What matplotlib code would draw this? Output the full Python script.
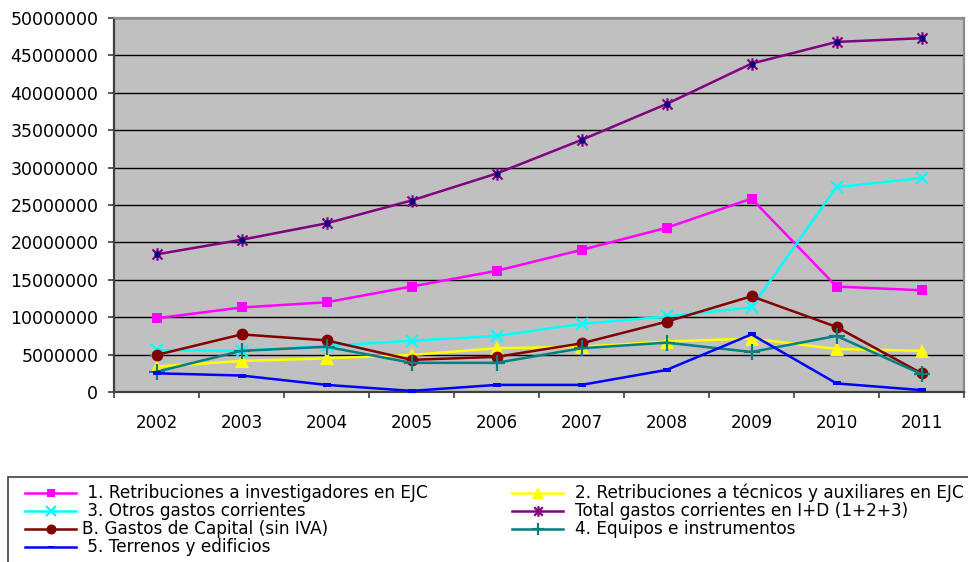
import numpy as np
import matplotlib
matplotlib.use("Agg")
import matplotlib.pyplot as plt
from matplotlib.path import Path
from matplotlib.lines import Line2D
from matplotlib.patches import Rectangle
from matplotlib.ticker import FixedLocator, FuncFormatter

# ---- data -------------------------------------------------------------
years = ["2002", "2003", "2004", "2005", "2006", "2007", "2008", "2009", "2010", "2011"]

retrib_investigadores = [9.85e6, 11.3e6, 12.0e6, 14.1e6, 16.2e6, 19.0e6, 21.95e6, 25.85e6, 14.1e6, 13.6e6]
retrib_tecnicos = [3.4e6, 4.15e6, 4.5e6, 4.95e6, 5.85e6, 6.05e6, 6.75e6, 7.15e6, 5.75e6, 5.5e6]
otros_gastos = [5.6e6, 5.5e6, 6.15e6, 6.85e6, 7.5e6, 9.1e6, 10.1e6, 11.3e6, 27.4e6, 28.6e6]
total_corrientes = [18.4e6, 20.35e6, 22.55e6, 25.6e6, 29.2e6, 33.7e6, 38.5e6, 43.9e6, 46.8e6, 47.3e6]
gastos_capital = [4.95e6, 7.7e6, 6.9e6, 4.3e6, 4.7e6, 6.5e6, 9.4e6, 12.8e6, 8.7e6, 2.5e6]
equipos = [2.7e6, 5.5e6, 6.05e6, 3.9e6, 3.9e6, 5.85e6, 6.6e6, 5.35e6, 7.5e6, 2.4e6]
terrenos = [2.5e6, 2.2e6, 0.95e6, 0.15e6, 0.95e6, 0.95e6, 2.95e6, 7.7e6, 1.15e6, 0.25e6]

labels = [
    " 1. Retribuciones a investigadores en EJC",
    "2. Retribuciones a técnicos y auxiliares en EJC",
    " 3. Otros gastos corrientes",
    "Total gastos corrientes en I+D (1+2+3)",
    "B. Gastos de Capital (sin IVA)",
    "4. Equipos e instrumentos",
    " 5. Terrenos y edificios",
]
series = [retrib_investigadores, retrib_tecnicos, otros_gastos, total_corrientes,
          gastos_capital, equipos, terrenos]

# ---- marker shapes ----------------------------------------------------
star_path = Path(
    [(-1, -1), (1, 1), (-1, 1), (1, -1), (0, -1.25), (0, 1.25)],
    [Path.MOVETO, Path.LINETO, Path.MOVETO, Path.LINETO, Path.MOVETO, Path.LINETO],
)
dash_path = Path(
    [(-1, -0.45), (1, -0.45), (1, 0.45), (-1, 0.45), (-1, -0.45)],
    [Path.MOVETO, Path.LINETO, Path.LINETO, Path.LINETO, Path.CLOSEPOLY],
)

styles = [
    dict(color="#FF00FF", marker="s", ms=7.5, mew=0, mfc="#FF00FF"),
    dict(color="#FFFF00", marker="^", ms=9.5, mew=0, mfc="#FFFF00"),
    dict(color="#00FFFF", marker="x", ms=8.5, mew=1.6, mfc="none"),
    dict(color="#800080", marker=star_path, ms=9, mew=1.6, mfc="none"),
    dict(color="#800000", marker="o", ms=8.5, mew=0, mfc="#800000"),
    dict(color="#008080", marker="+", ms=11, mew=1.6, mfc="none"),
    dict(color="#0000FF", marker=dash_path, ms=5.5, mew=0, mfc="#0000FF"),
]

W, H = 968, 562
fig = plt.figure(figsize=(W / 100, H / 100), dpi=100)
fig.patch.set_facecolor("white")

left, right, top, bottom = 114, 964, 18, 392
ax = fig.add_axes([left / W, 1 - bottom / H, (right - left) / W, (bottom - top) / H])
ax.set_facecolor("#C0C0C0")

for vals, st in zip(series, styles):
    ax.plot(years, vals, color=st["color"], lw=1.8, marker=st["marker"],
            ms=st["ms"], mew=st["mew"], mec=st["color"], mfc=st["mfc"], zorder=3)
    if st["marker"] is star_path:
        ax.plot(years, vals, ls="none", marker="o", ms=4.5, mew=0,
                mfc="#000080", zorder=3)

ax.set_xlim(-0.5, len(years) - 0.5)
ax.set_ylim(0, 50e6)
ax.set_yticks(np.arange(0, 50e6 + 1, 5e6))
ax.yaxis.set_major_formatter(FuncFormatter(lambda v, p: f"{v:.0f}"))
ax.xaxis.set_minor_locator(FixedLocator(np.arange(-0.5, len(years), 1.0)))

ax.grid(axis="y", color="#000000", lw=1.0)
ax.set_axisbelow(True)

for s in ("left", "bottom"):
    ax.spines[s].set_color("#404040")
    ax.spines[s].set_linewidth(1.6)
for s in ("top", "right"):
    ax.spines[s].set_color("#8C8C8C")
    ax.spines[s].set_linewidth(1.6)

ax.tick_params(axis="y", which="major", length=4.3, width=1.2, color="#404040",
               pad=7, labelsize=12.5, labelcolor="#000000")
ax.tick_params(axis="x", which="major", length=0, pad=16, labelsize=12,
               labelcolor="#000000")
ax.tick_params(axis="x", which="minor", length=4.3, width=1.2, color="#404040")

# ---- legend box below the chart --------------------------------------
def fx(px):
    return px / W

def fy(py):
    return 1 - py / H

fig.patches.append(Rectangle((fx(8), -0.1), 1.0, fy(477) + 0.1, transform=fig.transFigure,
                             fill=False, edgecolor="#404040", lw=1.2))

col_handle = [(25, 76), (512, 563)]
col_text = [82, 575]
row_y = [493, 511, 529, 547]

for i, (lab, st) in enumerate(zip(labels, styles)):
    col, row = i % 2, i // 2
    x0, x1 = col_handle[col]
    y = fy(row_y[row])
    xs = [fx(x0), fx((x0 + x1) / 2), fx(x1)]
    fig.lines.append(Line2D(xs, [y] * 3, transform=fig.transFigure, color=st["color"],
                            lw=1.8, marker=st["marker"], markevery=[1], ms=st["ms"] * 0.85,
                            mew=st["mew"], mec=st["color"], mfc=st["mfc"]))
    fig.text(fx(col_text[col]), y, lab, ha="left", va="center", fontsize=12.2,
             color="#000000")

fig.savefig("out.png", dpi=100)
